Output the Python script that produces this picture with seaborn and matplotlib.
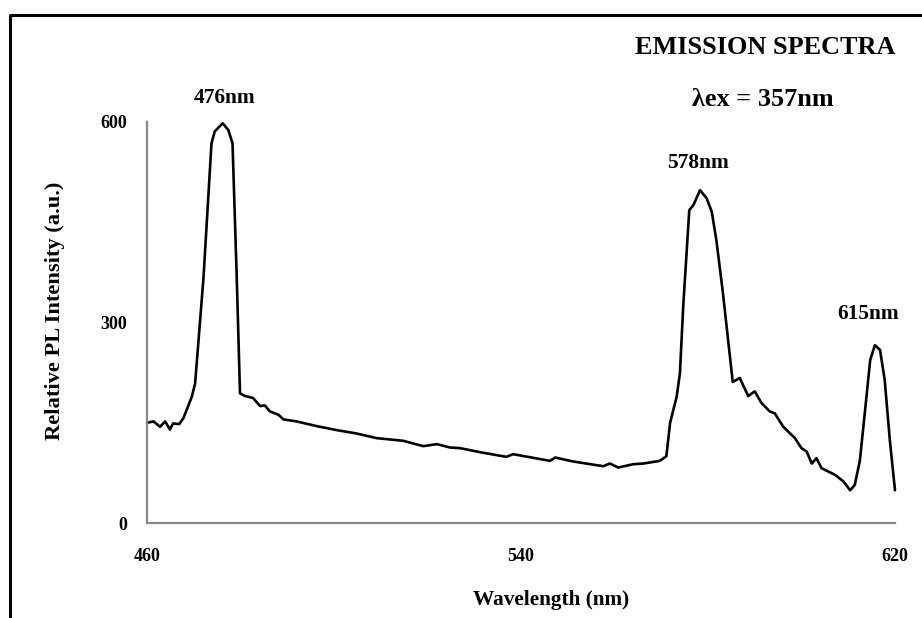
import numpy as np
import pandas as pd
import seaborn as sns
import matplotlib.pyplot as plt
from matplotlib.lines import Line2D

# values
wavelength = [
    460.0, 461.4, 462.8, 463.9, 464.9, 465.6, 466.9, 467.8, 469.6, 470.3,
    472.1, 473.8, 474.5, 476.2, 477.4, 478.3, 479.2, 479.9, 481.0, 482.7,
    484.2, 485.2, 486.3, 488.1, 489.2, 492.0, 496.3, 500.6, 504.8, 509.1,
    512.0, 514.8, 519.1, 522.0, 524.8, 527.0, 531.2, 536.9, 538.3, 546.2,
    547.3, 551.2, 557.6, 559.0, 560.8, 564.0, 566.2, 569.7, 571.1, 571.9,
    573.3, 574.0, 574.7, 576.0, 576.9, 578.3, 579.7, 580.8, 581.8, 583.2,
    584.3, 585.3, 586.8, 588.6, 590.0, 591.4, 593.2, 594.3, 596.1, 598.6,
    600.0, 601.1, 602.2, 603.2, 604.3, 607.2, 609.0, 610.4, 611.4, 612.5,
    613.9, 614.7, 615.7, 616.8, 617.8, 618.9, 620.0,
]
intensity = [
    150, 152, 144, 152, 140, 149, 148, 157, 189, 209,
    368, 568, 586, 598, 588, 568, 368, 194, 190, 187,
    175, 176, 167, 162, 155, 152, 145, 139, 134, 127,
    125, 123, 115, 118, 113, 112, 106, 99, 103, 93,
    98, 92, 85, 89, 83, 88, 89, 93, 100, 150,
    189, 224, 324, 468, 476, 498, 486, 466, 423, 344,
    274, 211, 217, 190, 197, 180, 167, 164, 144, 127,
    112, 107, 89, 97, 82, 72, 62, 49, 57, 94,
    189, 244, 266, 259, 214, 124, 49,
]
peak_labels = ["476nm", "578nm", "615nm"]
x_ticks = [460, 540, 620]
y_ticks = [0, 300, 600]

df = pd.DataFrame({"wavelength": wavelength, "intensity": intensity})

sns.set_style("white")
plt.rcParams["font.family"] = ["Liberation Serif", "DejaVu Serif"]
plt.rcParams["font.weight"] = "bold"
plt.rcParams["text.color"] = "black"
plt.rcParams["axes.labelcolor"] = "black"
plt.rcParams["xtick.labelcolor"] = "black"
plt.rcParams["ytick.labelcolor"] = "black"

fig = plt.figure(figsize=(9.22, 6.18), dpi=100)
ax = fig.add_axes([0.1594, 0.1537, 0.8113, 0.6489])

sns.lineplot(data=df, x="wavelength", y="intensity", color="black",
             linewidth=1.9, ax=ax, clip_on=False)

ax.set_xlim(460, 620)
ax.set_ylim(0, 600)
ax.set_xticks(x_ticks)
ax.set_yticks(y_ticks)
ax.tick_params(axis="both", direction="out", length=4, width=1.5,
               color="#888888", labelcolor="black", labelsize=13, pad=14)
ax.tick_params(axis="y", pad=10)
for side in ["top", "right"]:
    ax.spines[side].set_visible(False)
for side in ["left", "bottom"]:
    ax.spines[side].set_color("#888888")
    ax.spines[side].set_linewidth(1.6)
for lbl in ax.get_xticklabels() + ax.get_yticklabels():
    lbl.set_fontweight("bold")

ax.set_xlabel("Wavelength (nm)", fontsize=15.3, fontweight="bold", color="black")
ax.set_ylabel("Relative PL Intensity (a.u.)", fontsize=16.2, fontweight="bold",
              color="black")
ax.xaxis.label.set_va("center")
ax.yaxis.label.set_va("center")
ax.xaxis.set_label_coords(0.54, -0.192)
ax.yaxis.set_label_coords(-0.123, 0.529)

# peak labels
ax.text(476.5, 636, peak_labels[0], ha="center", va="center", fontsize=15.4,
        fontweight="bold", color="black")
ax.text(577.9, 539, peak_labels[1], ha="center", va="center", fontsize=15.4,
        fontweight="bold", color="black")
ax.text(614.2, 313, peak_labels[2], ha="center", va="center", fontsize=15.4,
        fontweight="bold", color="black")

ax.text(592.2, 712, "EMISSION SPECTRA", ha="center", va="center",
        fontsize=18.9, fontweight="bold", color="black")
ax.text(591.8, 633, "λex = 357nm", ha="center", va="center",
        fontsize=18.9, fontweight="bold", color="black")

# outer frame (cut off at the right and bottom in the reference)
fig.add_artist(Line2D([10 / 922, 10 / 922, 1.0], [0.0, 1 - 15 / 618, 1 - 15 / 618],
                      transform=fig.transFigure, color="black", linewidth=2.2))

fig.savefig("out.png", dpi=100)
